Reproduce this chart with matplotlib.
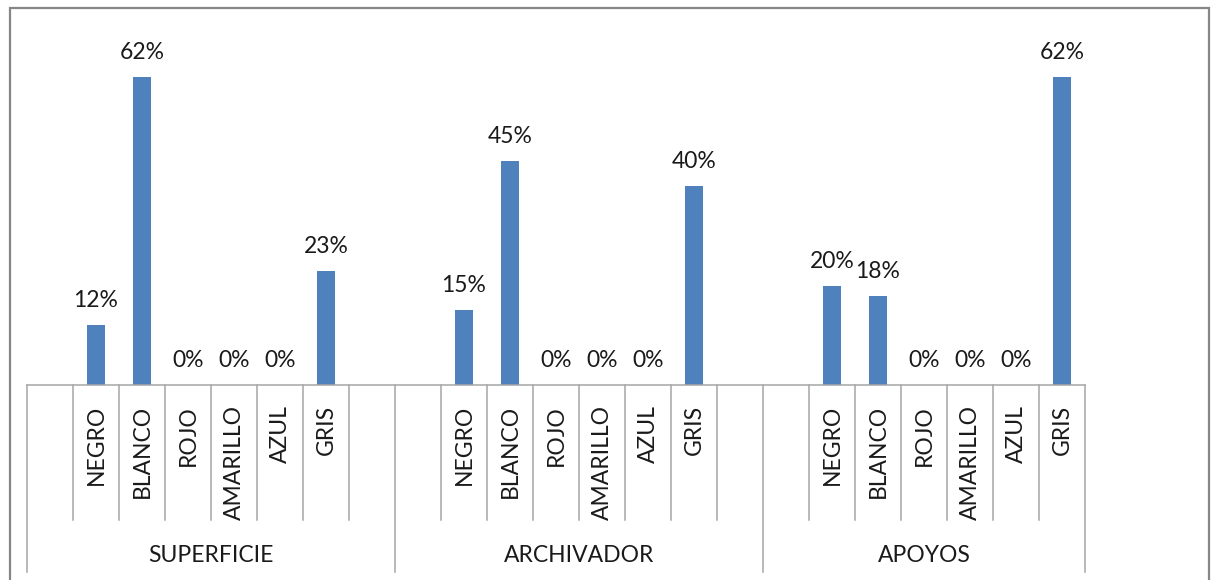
import matplotlib.pyplot as plt
from matplotlib.patches import Rectangle
from matplotlib.transforms import blended_transform_factory

plt.rcParams['font.family'] = ['Lato', 'DejaVu Sans']

groups = ['SUPERFICIE', 'ARCHIVADOR', 'APOYOS']
colores = ['NEGRO', 'BLANCO', 'ROJO', 'AMARILLO', 'AZUL', 'GRIS']
superficie = [12, 62, 0, 0, 0, 23]
archivador = [15, 45, 0, 0, 0, 40]
apoyos = [20, 18, 0, 0, 0, 62]

# each group has an empty slot before its colours; the first two also one after
cats = [''] + colores + [''] + [''] + colores + [''] + [''] + colores
vals = [None] + superficie + [None] + [None] + archivador + [None] + [None] + apoyos
group_sizes = [8, 8, 7]

W, H = 1212, 580
fig = plt.figure(figsize=(W / 100, H / 100), dpi=100)
ax = fig.add_axes([27 / W, 1 - 385 / H, (1085 - 27) / W, (385 - 37) / H])

blue = '#4F81BD'
line_col = '#A6A6A6'
txt_col = '#1A1A1A'

xs = [i for i, v in enumerate(vals) if v is not None]
hs = [v for v in vals if v is not None]
bars = ax.bar(xs, hs, width=0.4, color=blue)
for x, h in zip(xs, hs):
    ax.annotate(f'{h}%', (x, h), xytext=(0, 18), textcoords='offset pixels',
                ha='center', va='baseline', fontsize=16.5, color=txt_col)

ax.set_xlim(-0.5, len(cats) - 0.5)
ax.set_ylim(0, 70)
ax.axis('off')

# two-level category axis
tr = blended_transform_factory(ax.transData, fig.transFigure)
y_axis = 1 - 385 / H
y_inner = 1 - 520 / H
y_outer = 1 - 572 / H
ax.plot([-0.5, len(cats) - 0.5], [y_axis, y_axis], color=line_col, lw=1.1,
        transform=tr, clip_on=False)

start = 0
bounds = [0]
for n in group_sizes:
    start += n
    bounds.append(start)
for i in range(len(cats) + 1):
    b = i - 0.5
    y_end = y_outer if i in bounds else y_inner
    ax.plot([b, b], [y_axis, y_end], color=line_col, lw=1.1,
            transform=tr, clip_on=False)

for i, c in enumerate(cats):
    if c:
        ax.text(i, 1 - 405 / H, c, rotation=90, ha='center', va='top',
                fontsize=16.5, color=txt_col, transform=tr)

for g, a, b in zip(groups, bounds[:-1], bounds[1:]):
    ax.text((a + b - 1) / 2, 1 - 562 / H, g, ha='center', va='baseline',
            fontsize=16.5, color=txt_col, transform=tr)

# chart border, its bottom edge runs past the lower edge of the image
fig.patches.append(Rectangle((9.5 / W, -5 / H), (1209 - 9.5) / W, (H + 5 - 8) / H,
                             transform=fig.transFigure, fill=False,
                             edgecolor='#868686', lw=1.6))

fig.savefig('out.png', dpi=100)
